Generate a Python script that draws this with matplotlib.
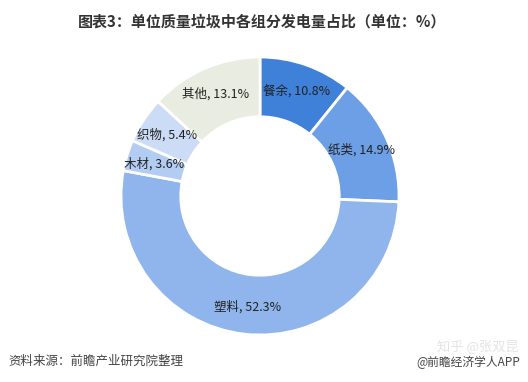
import numpy as np
import matplotlib as mpl
import matplotlib.pyplot as plt

mpl.use('Agg')
plt.rcParams['font.family'] = ['Noto Sans CJK SC', 'DejaVu Sans']

# Data (clockwise from 12 o'clock)
categories = ['餐余', '纸类', '塑料', '木材', '织物', '其他']
shares = [10.8, 14.9, 52.3, 3.6, 5.4, 13.1]
colors = ['#3f80d9', '#6c9fe6', '#8fb5ec', '#b3ccf2', '#cddcf6', '#e9ece0']

title = '图表3：单位质量垃圾中各组分发电量占比（单位：%）'
source = '资料来源：前瞻产业研究院整理'
credit = '@前瞻经济学人APP'

W, H = 528, 382
fig = plt.figure(figsize=(W / 100, H / 100), dpi=100)
fig.patch.set_facecolor('white')

cx, cy, r = 260, 196, 139
ax = fig.add_axes([(cx - r) / W, (H - cy - r) / H, 2 * r / W, 2 * r / H])

wedges, _ = ax.pie(shares, colors=colors, startangle=90, counterclock=False,
                   radius=1.0, wedgeprops=dict(width=0.43, edgecolor='white', linewidth=2))
ax.set_xlim(-1, 1)
ax.set_ylim(-1, 1)
ax.set_aspect('equal')
ax.axis('off')

# labels placed in the middle of the ring
for w, name, v in zip(wedges, categories, shares):
    ang = np.deg2rad((w.theta1 + w.theta2) / 2)
    x, y = 0.8 * np.cos(ang), 0.8 * np.sin(ang)
    ax.text(x, y, f'{name}, {v}%', ha='center', va='center', fontsize=9,
            color='#222222', clip_on=False)

fig.text(262 / W, 1 - 22 / H, title, ha='center', va='center', fontsize=10.8,
         fontweight='bold', color='#333333')
fig.text(8 / W, 1 - 361 / H, source, ha='left', va='center', fontsize=9,
         style='italic', color='#444444')
fig.text(520 / W, 1 - 362 / H, credit, ha='right', va='center', fontsize=8.5,
         color='#444444')
fig.text(478 / W, 1 - 346 / H, '知乎 @张双昆', ha='center', va='center', fontsize=9.5,
         color='#dddddd', alpha=0.8)

fig.savefig('out.png', dpi=100, facecolor='white')
